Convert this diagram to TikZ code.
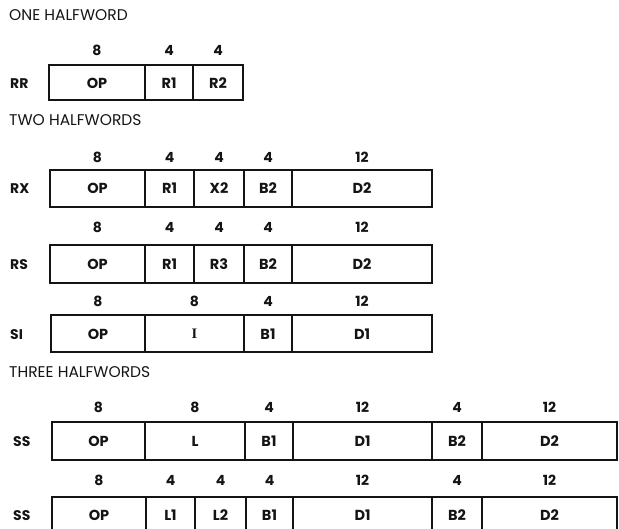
\documentclass[tikz,border=0pt]{standalone}
\usepackage{fontspec}
\setmainfont{Poppins}
\newfontfamily\romano{Liberation Serif}
\definecolor{fmtline}{HTML}{141414}
\tikzset{
  campo/.style={draw=fmtline,line width=1.5pt},
  rot/.style={font=\fontsize{14.5}{15}\selectfont\bfseries,text=fmtline,inner sep=0.5pt},
  bits/.style={font=\fontsize{14}{15}\selectfont\bfseries,text=fmtline,inner sep=0.5pt},
  tipo/.style={font=\fontsize{14}{15}\selectfont\bfseries,text=fmtline,anchor=west,inner sep=0pt},
  titulo/.style={font=\fontsize{15.5}{16}\selectfont,text=fmtline,anchor=west,inner sep=0pt},
}

\begin{document}
\begin{tikzpicture}[x=1pt,y=-1pt]
  \useasboundingbox (0,0) rectangle (619,529);
  \clip (0,0) rectangle (619,529);
  \node[titulo] (meia1) at (9,15) {ONE HALFWORD};
  \node[titulo] (meia2) at (9,120) {TWO HALFWORDS};
  \node[titulo] (meia3) at (9,372) {THREE HALFWORDS};
  % RR
  \node[tipo] (rr) at (10,84) {RR};
  \foreach \i/\n/\a/\b/\w in {1/OP/49/145/8, 2/R1/145/193/4, 3/R2/193/243/4} {
    \draw[campo] (\a,65) rectangle (\b,100);
    \node[rot] (rr-\i) at ({(\a+\b)/2},83) {\n};
    \node[bits] (rrb-\i) at ({(\a+\b)/2},50) {\w};}
  % RX
  \node[tipo] (rx) at (10,189) {RX};
  \foreach \i/\n/\a/\b/\w in {1/OP/50/145/8, 2/R1/145/194/4, 3/X2/194/244/4, 4/B2/244/292/4, 5/D2/292/432/12} {
    \draw[campo] (\a,170) rectangle (\b,207);
    \node[rot] (rx-\i) at ({(\a+\b)/2},188) {\n};
    \node[bits] (rxb-\i) at ({(\a+\b)/2},157) {\w};}
  % RS
  \node[tipo] (rs) at (10,265) {RS};
  \foreach \i/\n/\a/\b/\w in {1/OP/50/145/8, 2/R1/145/194/4, 3/R3/194/244/4, 4/B2/244/292/4, 5/D2/292/432/12} {
    \draw[campo] (\a,245) rectangle (\b,283);
    \node[rot] (rs-\i) at ({(\a+\b)/2},264) {\n};
    \node[bits] (rsb-\i) at ({(\a+\b)/2},227) {\w};}
  % SI
  \node[tipo] (si) at (10,335) {SI};
  \foreach \i/\n/\a/\b/\w in {1/OP/51/145/8, 2/{\romano\bfseries I}/145/244/8, 3/B1/244/292/4, 4/D1/292/432/12} {
    \draw[campo] (\a,315) rectangle (\b,352);
    \node[rot] (si-\i) at ({(\a+\b)/2},334) {\n};
    \node[bits] (sib-\i) at ({(\a+\b)/2},301) {\w};}
  % SS (L)
  \node[tipo] (ssa) at (13,442) {SS};
  \foreach \i/\n/\a/\b/\w in {1/OP/52/145/8, 2/L/145/245/8, 3/B1/245/293/4, 4/D1/293/432/12, 5/B2/432/482/4, 6/D2/482/617/12} {
    \draw[campo] (\a,422) rectangle (\b,460);
    \node[rot] (ssa-\i) at ({(\a+\b)/2},441) {\n};
    \node[bits] (ssab-\i) at ({(\a+\b)/2},407) {\w};}
  % SS (L1, L2)
  \node[tipo] (ssb) at (13,516) {SS};
  \foreach \i/\n/\a/\b/\w in {1/OP/52/146/8, 2/L1/146/195/4, 3/L2/195/246/4, 4/B1/246/293/4, 5/D1/293/432/12, 6/B2/432/482/4, 7/D2/482/617/12} {
    \draw[campo] (\a,497) rectangle (\b,534);
    \node[rot] (ssb-\i) at ({(\a+\b)/2},515) {\n};
    \node[bits] (ssbb-\i) at ({(\a+\b)/2},480) {\w};}
\end{tikzpicture}
\end{document}
